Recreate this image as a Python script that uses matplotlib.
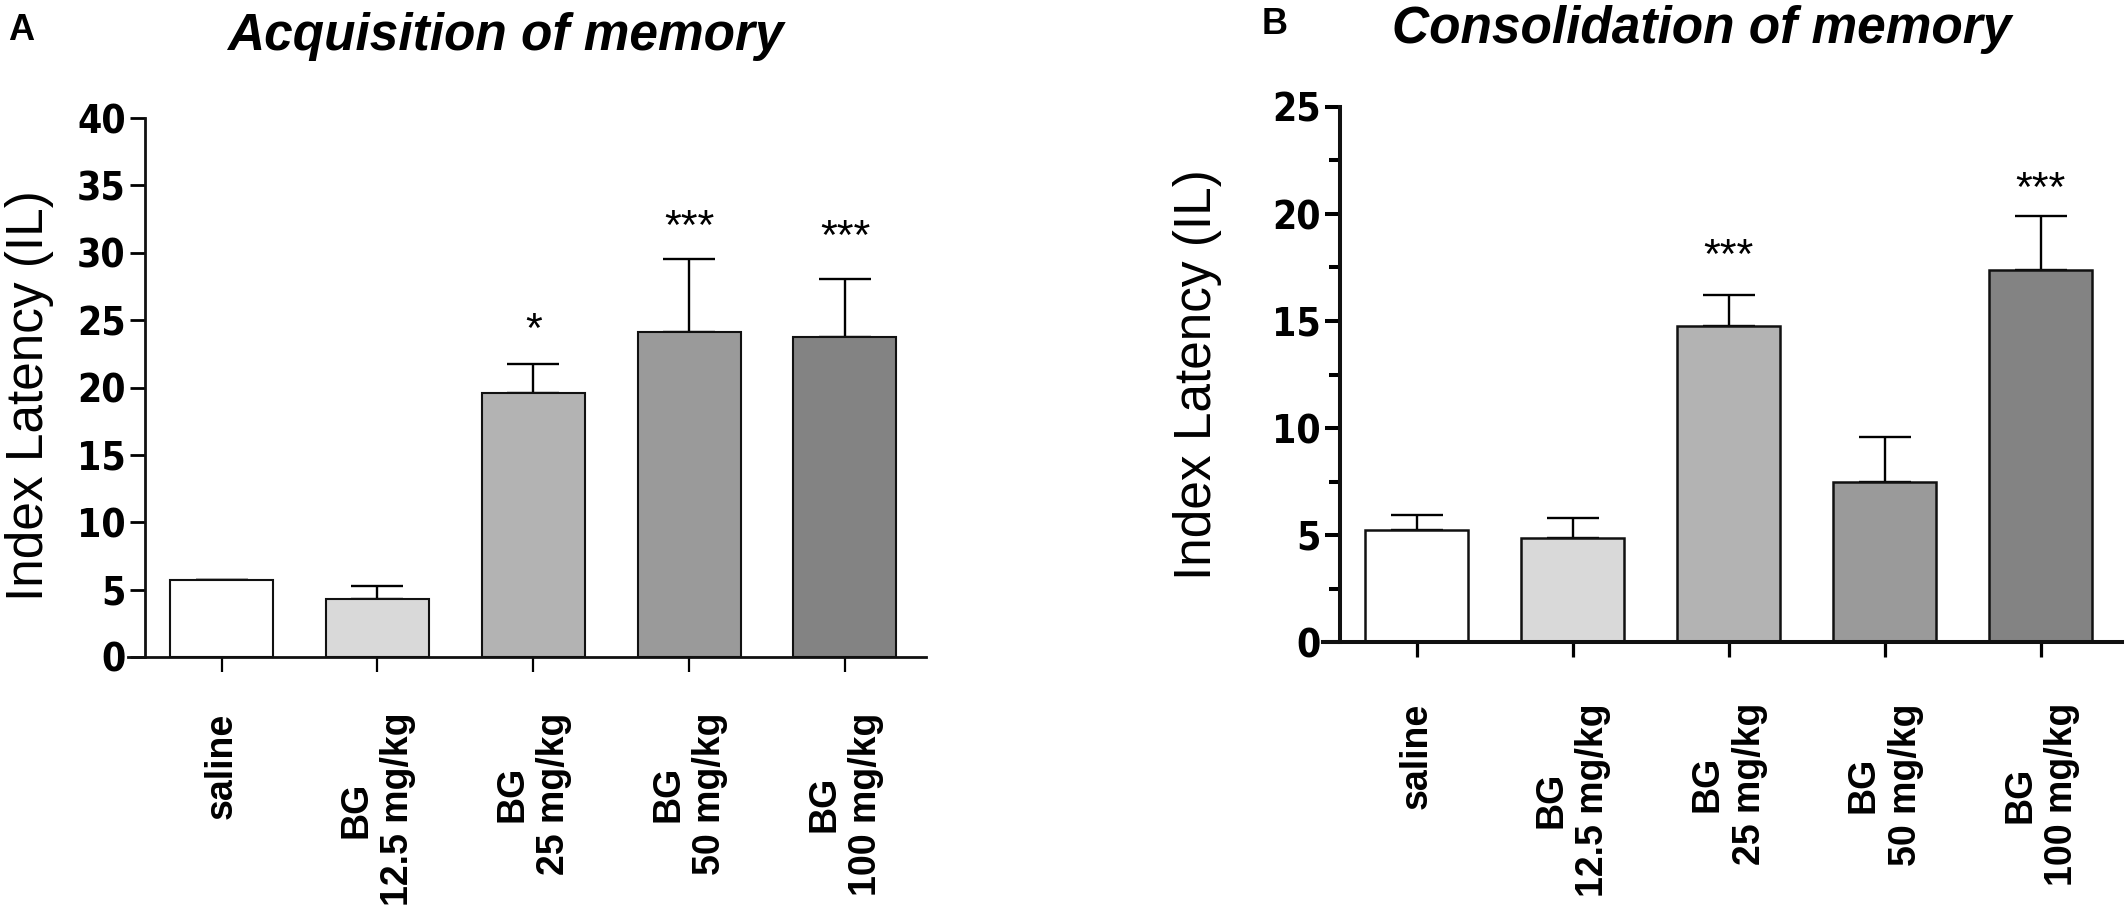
import numpy as np
import matplotlib
matplotlib.use('Agg')
import matplotlib.pyplot as plt
from matplotlib import font_manager
from matplotlib.ticker import MultipleLocator

plt.rcParams['font.family'] = ['Liberation Sans', 'DejaVu Sans']

# condensed face for the numeric tick labels, if installed
names = {f.name for f in font_manager.fontManager.ttflist}
if 'Liberation Sans Narrow' in names:
    tick_font = dict(family='Liberation Sans Narrow')
else:
    tick_font = dict(family='DejaVu Sans', stretch='condensed')

groups = ['saline', 'BG\n12.5 mg/kg', 'BG\n25 mg/kg', 'BG\n50 mg/kg', 'BG\n100 mg/kg']
colors = ['white', '#d9d9d9', '#b3b3b3', '#9a9a9a', '#838383']

# panel A - acquisition
acq_mean = [5.72, 4.31, 19.6, 24.1, 23.75]
acq_sem = [0.0, 0.96, 2.15, 5.4, 4.3]
acq_stars = ['', '', '*', '***', '***']
acq_star_y = [0, 0, 24.2, 31.8, 31.1]

# panel B - consolidation
con_mean = [5.23, 4.86, 14.77, 7.48, 17.4]
con_sem = [0.7, 0.93, 1.45, 2.1, 2.5]
con_stars = ['', '', '***', '', '***']
con_star_y = [0, 0, 18.0, 0, 21.1]

W, H = 2126, 911
fig = plt.figure(figsize=(W / 100, H / 100), dpi=100)


def panel(rect, mean, sem, stars, star_y, ymax, axis_lw, bar_lw, minor, tick_pad):
    ax = fig.add_axes(rect)
    x = np.arange(len(mean))
    ax.errorbar(x, mean, yerr=[np.zeros(len(sem)), sem], fmt='none',
                ecolor='black', elinewidth=1.7, capsize=19, capthick=1.7, zorder=1)
    ax.bar(x, mean, width=0.661, color=colors, edgecolor='#111111',
           linewidth=bar_lw, zorder=2)
    for xi, s, sy in zip(x, stars, star_y):
        if s:
            ax.text(xi, sy, s, ha='center', va='center', fontsize=31)

    ax.set_xlim(-0.6, 4.52)
    ax.set_ylim(0, ymax)
    ax.spines['top'].set_visible(False)
    ax.spines['right'].set_visible(False)
    ax.spines['left'].set_position(('data', -0.49))
    ax.spines['left'].set_linewidth(axis_lw)
    ax.spines['bottom'].set_linewidth(axis_lw)
    ax.spines['left'].set_color('#111111')
    ax.spines['bottom'].set_color('#111111')

    ax.yaxis.set_major_locator(MultipleLocator(5))
    if minor:
        ax.yaxis.set_minor_locator(MultipleLocator(2.5))
        ax.tick_params(axis='y', which='minor', length=8, width=axis_lw)
    ax.tick_params(axis='y', which='major', length=11, width=axis_lw,
                   labelsize=28, pad=3)
    for lab in ax.get_yticklabels():
        lab.set_fontweight('bold')
        lab.set(**tick_font)

    ax.set_xticks(x)
    ax.set_xticklabels(groups, rotation=90, ha='center', va='top',
                       multialignment='center', fontsize=27, fontweight='bold')
    ax.tick_params(axis='x', length=11, width=axis_lw * 0.8, pad=tick_pad)
    return ax


axA = panel([128 / W, 1 - 657 / H, 798 / W, (657 - 118) / H],
            acq_mean, acq_sem, acq_stars, acq_star_y, 40, 2.0, 1.5, False, 29)
axB = panel([1323 / W, 1 - 642 / H, 799 / W, (642 - 107) / H],
            con_mean, con_sem, con_stars, con_star_y, 25, 2.9, 1.8, True, 33)

fig.text(30 / W, 1 - 396 / H, 'Index Latency (IL)', rotation=90,
         ha='center', va='center', fontsize=37)
fig.text(1197 / W, 1 - 375 / H, 'Index Latency (IL)', rotation=90,
         ha='center', va='center', fontsize=37)

fig.text(227 / W, 1 - 50 / H, 'Acquisition of memory', ha='left', va='baseline',
         fontsize=37, fontweight='bold', fontstyle='italic')
fig.text(1392 / W, 1 - 43 / H, 'Consolidation of memory', ha='left', va='baseline',
         fontsize=37, fontweight='bold', fontstyle='italic')

fig.text(8 / W, 1 - 40 / H, 'A', ha='left', va='baseline', fontsize=26, fontweight='bold')
fig.text(1262 / W, 1 - 34 / H, 'B', ha='left', va='baseline', fontsize=26, fontweight='bold')

fig.savefig('out.png', dpi=100, facecolor='white')
